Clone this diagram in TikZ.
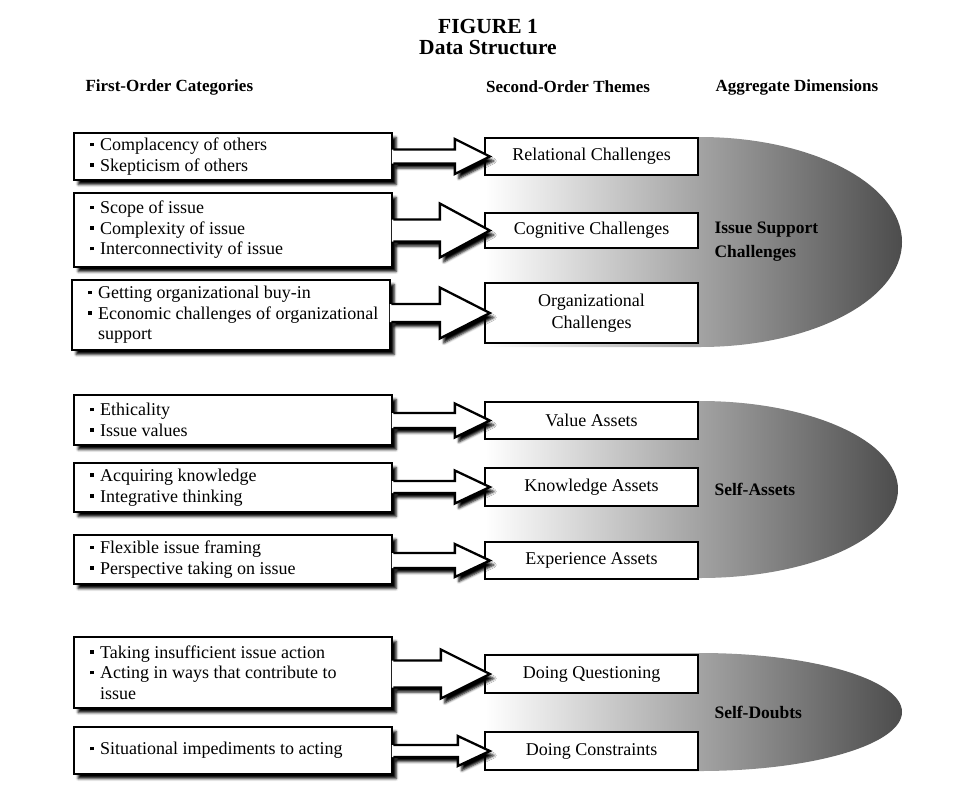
\documentclass[tikz,border=0pt]{standalone}
\usepackage{fontspec}
\setmainfont{Liberation Serif}
\usetikzlibrary{calc,shadows.blur}

\newcommand{\itm}[1]{\hspace*{13pt}\makebox[10pt][l]{\rule[4.5pt]{3.6pt}{3.6pt}}\mbox{#1}}
% block arrow: from, to, shaft half width, head half width, head length
\newcommand{\blockarrow}[5]{%
  \fill[white, boxshadow] let \p1=(#1.east), \p2=(#2.west) in
    ({\x1-1.5pt},{\y2+#3pt}) -- ({\x2-#5pt},{\y2+#3pt}) -- ({\x2-#5pt},{\y2+#4pt})
    -- ({\x2+6pt},\y2) -- ({\x2-#5pt},{\y2-#4pt}) -- ({\x2-#5pt},{\y2-#3pt})
    -- ({\x1-1.5pt},{\y2-#3pt}) -- cycle;
  \draw[line width=2.3pt] let \p1=(#1.east), \p2=(#2.west) in
    (\x1,{\y2+#3pt}) -- ({\x2-#5pt},{\y2+#3pt}) -- ({\x2-#5pt},{\y2+#4pt})
    -- ({\x2+6pt},\y2) -- ({\x2-#5pt},{\y2-#4pt}) -- ({\x2-#5pt},{\y2-#3pt})
    -- (\x1,{\y2-#3pt});
}

\begin{document}
\begin{tikzpicture}[
    x=1pt, y=-1pt,
    boxshadow/.style={blur shadow={shadow xshift=4pt, shadow yshift=-4.5pt, shadow blur radius=2.5pt, shadow opacity=100}},
    catbox/.style={draw, line width=2.3pt, fill=white, anchor=west, text width=312pt, inner xsep=3pt, align=flush left, font=\fontsize{18}{20.5}\selectfont, boxshadow},
    themebox/.style={draw, line width=2.3pt, fill=white, minimum width=213pt, inner sep=0pt, align=center, font=\fontsize{18}{21.5}\selectfont},
    dimshade/.style={left color=white, right color=black!70},
    dimlabel/.style={anchor=west, align=left, font=\fontsize{17.5}{24}\selectfont\bfseries},
    header/.style={font=\fontsize{17}{20}\selectfont\bfseries},
    title/.style={align=center, font=\fontsize{21.5}{21}\selectfont\bfseries}
]
    \useasboundingbox (0,0) rectangle (971,801);

    % Title and column heads
    \node[title] (title) at (488,37.5) {FIGURE 1\\Data Structure};
    \node[header, anchor=west] (head1) at (82,87) {First-Order Categories};
    \node[header] (head2) at (568,87) {Second-Order Themes};
    \node[header, anchor=west] (head3) at (712,87) {Aggregate Dimensions};

    % Aggregate dimensions
    \shade[dimshade] (485,137) -- (700,137) arc[start angle=90, end angle=-90, x radius=202pt, y radius=105pt] -- (485,347) -- cycle;
    \shade[dimshade] (485,401) -- (700,401) arc[start angle=90, end angle=-90, x radius=198pt, y radius=88.5pt] -- (485,578) -- cycle;
    \shade[dimshade] (485,653) -- (700,653) arc[start angle=90, end angle=-90, x radius=202pt, y radius=59pt] -- (485,771) -- cycle;
    \node[dimlabel] (dim1) at (711,242) {Issue Support\\Challenges};
    \node[dimlabel] (dim2) at (711,489) {Self-Assets};
    \node[dimlabel] (dim3) at (711,712) {Self-Doubts};

    % Second-order themes
    \node[themebox, minimum height=37pt] (relational) at (591.5,156.5) {Relational Challenges};
    \node[themebox, minimum height=35pt] (cognitive) at (591.5,230.5) {Cognitive Challenges};
    \node[themebox, minimum height=60pt] (organizational) at (591.5,313) {Organizational\\Challenges};
    \node[themebox, minimum height=37pt] (value) at (591.5,420.5) {Value Assets};
    \node[themebox, minimum height=38pt] (knowledge) at (591.5,487) {Knowledge Assets};
    \node[themebox, minimum height=37pt] (experience) at (591.5,560.5) {Experience Assets};
    \node[themebox, minimum height=38pt] (questioning) at (591.5,674) {Doing Questioning};
    \node[themebox, minimum height=38pt] (constraints) at (591.5,751) {Doing Constraints};

    % First-order categories
    \node[catbox, minimum height=47pt] (others) at (73,156.5) {\itm{Complacency of others}\\\itm{Skepticism of others}};
    \node[catbox, minimum height=74pt] (scope) at (73,230) {\itm{Scope of issue}\\\itm{Complexity of issue}\\\itm{Interconnectivity of issue}};
    \node[catbox, minimum height=70pt] (buyin) at (71,315) {\itm{Getting organizational buy-in}\\\itm{Economic challenges of organizational}\\\hspace*{23pt}support};
    \node[catbox, minimum height=50pt] (ethics) at (73,420) {\itm{Ethicality}\\\itm{Issue values}};
    \node[catbox, minimum height=49pt] (learning) at (73,487.5) {\itm{Acquiring knowledge}\\\itm{Integrative thinking}};
    \node[catbox, minimum height=49pt] (framing) at (73,559.5) {\itm{Flexible issue framing}\\\itm{Perspective taking on issue}};
    \node[catbox, minimum height=71pt] (action) at (73,672.5) {\itm{Taking insufficient issue action}\\\itm{Acting in ways that contribute to}\\\hspace*{23pt}issue};
    \node[catbox, minimum height=47pt] (impediments) at (73,750.5) {\itm{Situational impediments to acting}};

    % Connections
    \blockarrow{others}{relational}{7}{17.5}{29}
    \blockarrow{scope}{cognitive}{11}{27}{44}
    \blockarrow{buyin}{organizational}{9}{25.5}{44}
    \blockarrow{ethics}{value}{7.5}{17}{29}
    \blockarrow{learning}{knowledge}{6}{16.5}{29}
    \blockarrow{framing}{experience}{7.5}{16.5}{29}
    \blockarrow{action}{questioning}{13.5}{24.5}{43}
    \blockarrow{impediments}{constraints}{6}{15}{26}

\end{tikzpicture}
\end{document}
